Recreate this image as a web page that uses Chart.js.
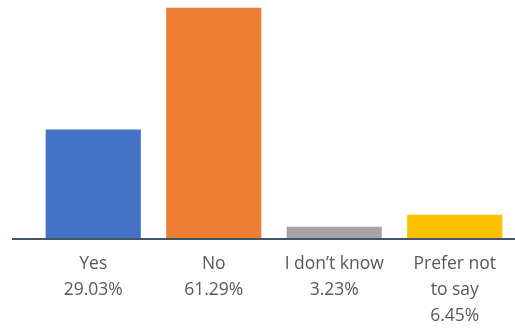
<!DOCTYPE html>
<html>
<head>
<meta charset="utf-8">
<script src="https://cdn.jsdelivr.net/npm/chart.js@4"></script>
<style>
  html, body { margin: 0; padding: 0; background: #fff; }
  #wrap { width: 515px; height: 329px; }
</style>
</head>
<body>
<div id="wrap"><canvas id="myChart"></canvas></div>
<script>
// data
var categories = ["Yes", "No", "I don\u2019t know", "Prefer not to say"];
var tickLabels = [["Yes", "29.03%"], ["No", "61.29%"], ["I don\u2019t know", "3.23%"], ["Prefer not", "to say", "6.45%"]];
var values = [29.03, 61.29, 3.23, 6.45];
var colors = ['#4472C4', '#ED7D31', '#A5A5A5', '#FFC000'];

// baseline across the whole width, like the excel axis
var baseline = {
	id: 'baseline',
	afterDatasetsDraw: function (chart) {
		var ctx = chart.ctx
		var y = chart.scales.y.getPixelForValue(0)
		ctx.save()
		ctx.strokeStyle = '#44546A'
		ctx.lineWidth = 2
		ctx.beginPath()
		ctx.moveTo(12, y)
		ctx.lineTo(chart.width, y)
		ctx.stroke()
		ctx.restore()
	}
}

var ctx = document.getElementById('myChart').getContext('2d');
var chart = new Chart(ctx, {
	type: 'bar',
	data: {
		labels: tickLabels,
		datasets: [{
			label: 'Responses',
			data: values,
			backgroundColor: colors,
			borderWidth: 0,
			categoryPercentage: 1,
			barPercentage: 0.79
		}]
	},
	options: {
		responsive: true,
		maintainAspectRatio: false,
		animation: false,
		layout: { padding: { left: 33, right: 0, top: 5, bottom: 0 } },
		plugins: { legend: { display: false }, tooltip: { enabled: false } },
		scales: {
			y: { display: false, min: 0, max: 62 },
			x: {
				grid: { display: false, drawTicks: false },
				border: { display: false },
				afterFit: function (scale) { scale.height = 90 },
				ticks: {
					color: '#595959',
					padding: 12,
					maxRotation: 0,
					autoSkip: false,
					font: { family: 'Open Sans', size: 17.5, lineHeight: '26px' }
				}
			}
		}
	},
	plugins: [baseline]
});
</script>
</body>
</html>
